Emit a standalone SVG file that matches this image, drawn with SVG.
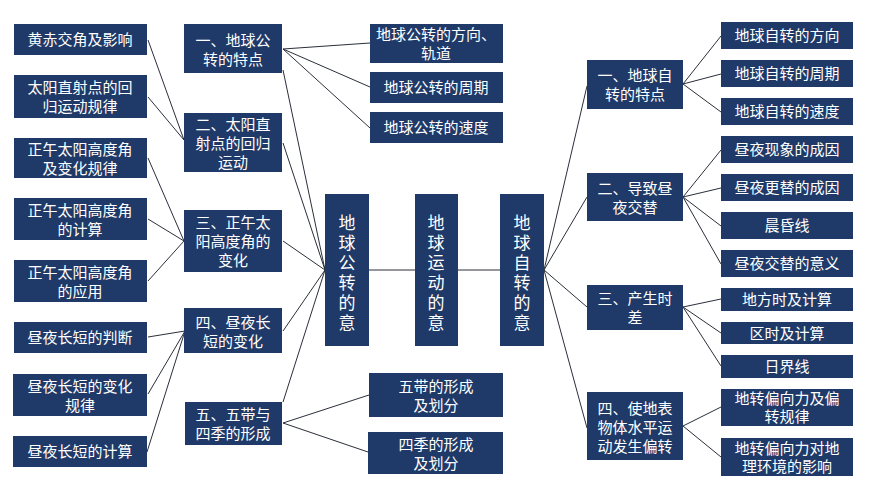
<svg xmlns="http://www.w3.org/2000/svg" width="870" height="489" viewBox="0 0 870 489">
<style>
rect{fill:#1f3a68}
text{fill:#fff;font-family:"Liberation Serif","Noto Sans CJK SC",serif;font-size:15px;text-anchor:middle}
.v{font-size:17px}
#connectors line{stroke:#2a2f3a;stroke-width:1}
</style>
<rect x="0" y="0" width="870" height="489" style="fill:#fff"/>
<g id="connectors">
<line x1="148" y1="40" x2="184" y2="140"/><line x1="148" y1="97" x2="184" y2="140"/>
<line x1="148" y1="158" x2="184" y2="241"/><line x1="148" y1="219" x2="184" y2="241"/><line x1="148" y1="281" x2="184" y2="241"/>
<line x1="148" y1="337" x2="185" y2="331"/><line x1="148" y1="394" x2="185" y2="331"/><line x1="147" y1="452" x2="185" y2="331"/>
<line x1="283" y1="70" x2="325" y2="270"/><line x1="283" y1="143" x2="325" y2="270"/><line x1="283" y1="241" x2="325" y2="270"/><line x1="283" y1="331" x2="325" y2="270"/><line x1="283" y1="402" x2="325" y2="270"/>
<line x1="283" y1="49" x2="370" y2="43"/><line x1="283" y1="49" x2="370" y2="87"/><line x1="283" y1="49" x2="370" y2="128"/>
<line x1="283" y1="423" x2="369" y2="395"/><line x1="283" y1="423" x2="368" y2="452"/>
<line x1="369" y1="270" x2="415" y2="270"/><line x1="458" y1="270" x2="500" y2="270"/>
<line x1="544" y1="270" x2="587" y2="86"/><line x1="544" y1="270" x2="587" y2="197"/><line x1="544" y1="270" x2="587" y2="307"/><line x1="544" y1="270" x2="587" y2="428"/>
<line x1="683" y1="84" x2="721" y2="36"/><line x1="683" y1="84" x2="721" y2="74"/><line x1="683" y1="84" x2="721" y2="112"/>
<line x1="683" y1="197" x2="721" y2="150"/><line x1="683" y1="197" x2="721" y2="188"/><line x1="683" y1="197" x2="721" y2="226"/><line x1="683" y1="197" x2="721" y2="264"/>
<line x1="683" y1="307" x2="721" y2="299"/><line x1="683" y1="307" x2="721" y2="333"/><line x1="683" y1="307" x2="721" y2="366"/>
<line x1="683" y1="426" x2="721" y2="407"/><line x1="683" y1="426" x2="721" y2="457"/>
</g>
<g id="l1"><rect x="14" y="24" width="133" height="31"/><text x="80" y="45">黄赤交角及影响</text></g>
<g id="l2"><rect x="14" y="75" width="133" height="43"/><text x="80" y="93">太阳直射点的回</text><text x="80" y="112">归运动规律</text></g>
<g id="l3"><rect x="14" y="138" width="133" height="40"/><text x="80" y="155">正午太阳高度角</text><text x="80" y="174">及变化规律</text></g>
<g id="l4"><rect x="14" y="198" width="133" height="42"/><text x="80" y="216">正午太阳高度角</text><text x="80" y="235">的计算</text></g>
<g id="l5"><rect x="14" y="260" width="133" height="42"/><text x="80" y="278">正午太阳高度角</text><text x="80" y="297">的应用</text></g>
<g id="l6"><rect x="14" y="322" width="133" height="31"/><text x="80" y="343">昼夜长短的判断</text></g>
<g id="l7"><rect x="13" y="374" width="134" height="42"/><text x="80" y="392">昼夜长短的变化</text><text x="80" y="411">规律</text></g>
<g id="l8"><rect x="13" y="436" width="134" height="31"/><text x="80" y="457">昼夜长短的计算</text></g>
<g id="g1"><rect x="184" y="24" width="98" height="49"/><text x="233" y="46">一、地球公</text><text x="233" y="65">转的特点</text></g>
<g id="g2"><rect x="184" y="113" width="98" height="59"/><text x="233" y="130">二、太阳直</text><text x="233" y="149">射点的回归</text><text x="233" y="168">运动</text></g>
<g id="g3"><rect x="184" y="210" width="98" height="62"/><text x="233" y="228">三、正午太</text><text x="233" y="247">阳高度角的</text><text x="233" y="266">变化</text></g>
<g id="g4"><rect x="184" y="308" width="98" height="45"/><text x="233" y="328">四、昼夜长</text><text x="233" y="347">短的变化</text></g>
<g id="g5"><rect x="185" y="402" width="97" height="43"/><text x="233" y="420">五、五带与</text><text x="233" y="439">四季的形成</text></g>
<g id="t1"><rect x="370" y="24" width="133" height="39"/><text x="436" y="40">地球公转的方向、</text><text x="436" y="59">轨道</text></g>
<g id="t2"><rect x="370" y="72" width="133" height="31"/><text x="436" y="93">地球公转的周期</text></g>
<g id="t3"><rect x="370" y="112" width="133" height="31"/><text x="436" y="133">地球公转的速度</text></g>
<g id="t4"><rect x="369" y="373" width="134" height="44"/><text x="436" y="392">五带的形成</text><text x="436" y="411">及划分</text></g>
<g id="t5"><rect x="368" y="432" width="135" height="42"/><text x="436" y="450">四季的形成</text><text x="436" y="469">及划分</text></g>
<g id="c1"><rect x="325" y="194" width="44" height="152"/><text class="v" x="347"><tspan x="347" y="229">地</tspan><tspan x="347" y="249">球</tspan><tspan x="347" y="269">公</tspan><tspan x="347" y="289">转</tspan><tspan x="347" y="309">的</tspan><tspan x="347" y="329">意</tspan></text><text class="v" x="347" y="349" style="display:none"></text></g>
<g id="c2"><rect x="415" y="194" width="43" height="152"/><text class="v" x="436"><tspan x="436" y="229">地</tspan><tspan x="436" y="249">球</tspan><tspan x="436" y="269">运</tspan><tspan x="436" y="289">动</tspan><tspan x="436" y="309">的</tspan><tspan x="436" y="329">意</tspan></text></g>
<g id="c3"><rect x="500" y="194" width="44" height="152"/><text class="v" x="522"><tspan x="522" y="229">地</tspan><tspan x="522" y="249">球</tspan><tspan x="522" y="269">自</tspan><tspan x="522" y="289">转</tspan><tspan x="522" y="309">的</tspan><tspan x="522" y="329">意</tspan></text></g>
<g id="r1"><rect x="587" y="60" width="96" height="49"/><text x="635" y="81">一、地球自</text><text x="635" y="100">转的特点</text></g>
<g id="r2"><rect x="587" y="173" width="96" height="48"/><text x="635" y="194">二、导致昼</text><text x="635" y="213">夜交替</text></g>
<g id="r3"><rect x="587" y="285" width="96" height="45"/><text x="635" y="304">三、产生时</text><text x="635" y="323">差</text></g>
<g id="r4"><rect x="587" y="392" width="96" height="68"/><text x="635" y="414">四、使地表</text><text x="635" y="433">物体水平运</text><text x="635" y="452">动发生偏转</text></g>
<g id="s1"><rect x="721" y="22" width="132" height="27"/><text x="787" y="41">地球自转的方向</text></g>
<g id="s2"><rect x="721" y="60" width="132" height="27"/><text x="787" y="79">地球自转的周期</text></g>
<g id="s3"><rect x="721" y="98" width="132" height="27"/><text x="787" y="117">地球自转的速度</text></g>
<g id="s4"><rect x="721" y="136" width="132" height="27"/><text x="787" y="155">昼夜现象的成因</text></g>
<g id="s5"><rect x="721" y="174" width="132" height="27"/><text x="787" y="193">昼夜更替的成因</text></g>
<g id="s6"><rect x="721" y="212" width="132" height="27"/><text x="787" y="231">晨昏线</text></g>
<g id="s7"><rect x="721" y="250" width="132" height="27"/><text x="787" y="269">昼夜交替的意义</text></g>
<g id="s8"><rect x="721" y="288" width="132" height="23"/><text x="787" y="305">地方时及计算</text></g>
<g id="s9"><rect x="721" y="322" width="132" height="22"/><text x="787" y="339">区时及计算</text></g>
<g id="s10"><rect x="721" y="355" width="132" height="23"/><text x="787" y="372">日界线</text></g>
<g id="s11"><rect x="721" y="389" width="132" height="37"/><text x="787" y="404">地转偏向力及偏</text><text x="787" y="422">转规律</text></g>
<g id="s12"><rect x="721" y="438" width="132" height="38"/><text x="787" y="454">地转偏向力对地</text><text x="787" y="472">理环境的影响</text></g>
</svg>
